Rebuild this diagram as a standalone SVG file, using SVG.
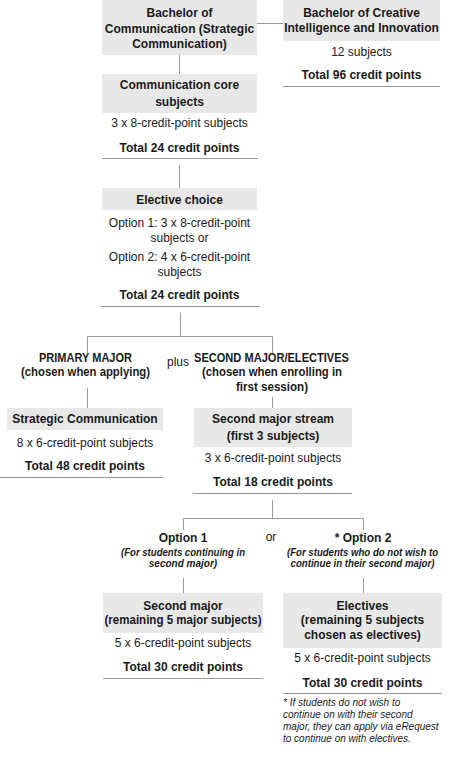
<svg xmlns="http://www.w3.org/2000/svg" width="449" height="765" viewBox="0 0 449 765">
<style>
text{font-family:"Liberation Sans",Arial,sans-serif;fill:#1a1a1a;text-anchor:middle}
.h{font-size:12px;font-weight:bold}
.b{font-size:12px}
.i{font-size:10px;font-weight:bold;font-style:italic}
.f{font-size:10px;font-style:italic;text-anchor:start}
.box{fill:#e8e8e8}
.ln{stroke:#9a9a9a;stroke-width:1;fill:none}
</style>
<rect width="449" height="765" fill="#fff"/>
<g id="connectors" class="ln">
<path d="M257 23.5H283"/>
<path d="M179.5 55V74"/>
<path d="M179.5 165V188"/>
<path d="M180.5 313V336.5M87.5 353V336.5H272.5V353"/>
<path d="M87.5 388V408"/>
<path d="M272.5 397V408"/>
<path d="M272.5 500V518.5M183.5 530V518.5H363.5V530"/>
<path d="M183.5 578V593"/>
<path d="M363.5 578V593"/>
</g>
<g id="bachelor-comm">
<rect class="box" x="102" y="0" width="155" height="55"/>
<text class="h" x="179.5" y="17">Bachelor of</text>
<text class="h" x="179.5" y="33">Communication (Strategic</text>
<text class="h" x="179.5" y="48">Communication)</text>
</g>
<g id="bachelor-cii">
<rect class="box" x="283" y="0" width="157" height="41"/>
<text class="h" x="361.5" y="17">Bachelor of Creative</text>
<text class="h" x="361.5" y="32">Intelligence and Innovation</text>
<text class="b" x="361.5" y="56">12 subjects</text>
<text class="h" x="361.5" y="79">Total 96 credit points</text>
<path class="ln" d="M283 86.5H440"/>
</g>
<g id="core">
<rect class="box" x="102" y="74" width="155" height="39"/>
<text class="h" x="179.5" y="89">Communication core</text>
<text class="h" x="179.5" y="106">subjects</text>
<text class="b" x="179.5" y="127">3 x 8-credit-point subjects</text>
<text class="h" x="179.5" y="152">Total 24 credit points</text>
<path class="ln" d="M102 158.5H258"/>
</g>
<g id="elective-choice">
<rect class="box" x="102" y="188" width="155" height="22"/>
<text class="h" x="179.5" y="204">Elective choice</text>
<text class="b" x="179.5" y="227">Option 1: 3 x 8-credit-point</text>
<text class="b" x="179.5" y="242">subjects or</text>
<text class="b" x="179.5" y="261">Option 2: 4 x 6-credit-point</text>
<text class="b" x="179.5" y="276">subjects</text>
<text class="h" x="179.5" y="299">Total 24 credit points</text>
<path class="ln" d="M101 306.5H260"/>
</g>
<g id="primary-major">
<text class="h" x="85.5" y="362" textLength="93" lengthAdjust="spacingAndGlyphs">PRIMARY MAJOR</text>
<text class="h" x="85.5" y="376" textLength="129" lengthAdjust="spacingAndGlyphs">(chosen when applying)</text>
</g>
<g id="plus">
<text class="b" x="178" y="366">plus</text>
</g>
<g id="second-major-electives">
<text class="h" x="271.5" y="362" textLength="155" lengthAdjust="spacingAndGlyphs">SECOND MAJOR/ELECTIVES</text>
<text class="h" x="272" y="376" textLength="140" lengthAdjust="spacingAndGlyphs">(chosen when enrolling in</text>
<text class="h" x="272" y="391" textLength="72" lengthAdjust="spacingAndGlyphs">first session)</text>
</g>
<g id="strategic-comm">
<rect class="box" x="7" y="408" width="156" height="22"/>
<text class="h" x="85" y="423">Strategic Communication</text>
<text class="b" x="85" y="447">8 x 6-credit-point subjects</text>
<text class="h" x="85" y="470">Total 48 credit points</text>
<path class="ln" d="M0 477.5H163"/>
</g>
<g id="second-major-stream">
<rect class="box" x="194" y="408" width="158" height="39"/>
<text class="h" x="273" y="423">Second major stream</text>
<text class="h" x="273" y="440">(first 3 subjects)</text>
<text class="b" x="273" y="462">3 x 6-credit-point subjects</text>
<text class="h" x="273" y="486">Total 18 credit points</text>
<path class="ln" d="M193 493.5H352"/>
</g>
<g id="option1">
<text class="h" x="183" y="542">Option 1</text>
<text class="i" x="183" y="556" textLength="124" lengthAdjust="spacingAndGlyphs">(For students continuing in</text>
<text class="i" x="183" y="567">second major)</text>
</g>
<g id="or">
<text class="b" x="271" y="541">or</text>
</g>
<g id="option2">
<text class="h" x="363" y="542">* Option 2</text>
<text class="i" x="362.5" y="556" textLength="151" lengthAdjust="spacingAndGlyphs">(For students who do not wish to</text>
<text class="i" x="362.5" y="567" textLength="144" lengthAdjust="spacingAndGlyphs">continue in their second major)</text>
</g>
<g id="second-major">
<rect class="box" x="103" y="593" width="160" height="40"/>
<text class="h" x="183" y="610">Second major</text>
<text class="h" x="183" y="624" textLength="157" lengthAdjust="spacingAndGlyphs">(remaining 5 major subjects)</text>
<text class="b" x="183" y="647">5 x 6-credit-point subjects</text>
<text class="h" x="183" y="671">Total 30 credit points</text>
<path class="ln" d="M103 678.5H263"/>
</g>
<g id="electives">
<rect class="box" x="283" y="593" width="159" height="55"/>
<text class="h" x="362.5" y="610">Electives</text>
<text class="h" x="362.5" y="624">(remaining 5 subjects</text>
<text class="h" x="362.5" y="639">chosen as electives)</text>
<text class="b" x="362.5" y="662">5 x 6-credit-point subjects</text>
<text class="h" x="362.5" y="687">Total 30 credit points</text>
<path class="ln" d="M283 693.5H442"/>
</g>
<g id="footnote">
<text class="f" x="283" y="706">*  If students do not wish to</text>
<text class="f" x="283" y="718">continue on with their second</text>
<text class="f" x="283" y="730">major, they can apply via eRequest</text>
<text class="f" x="283" y="742">to continue on with electives.</text>
</g>
</svg>
